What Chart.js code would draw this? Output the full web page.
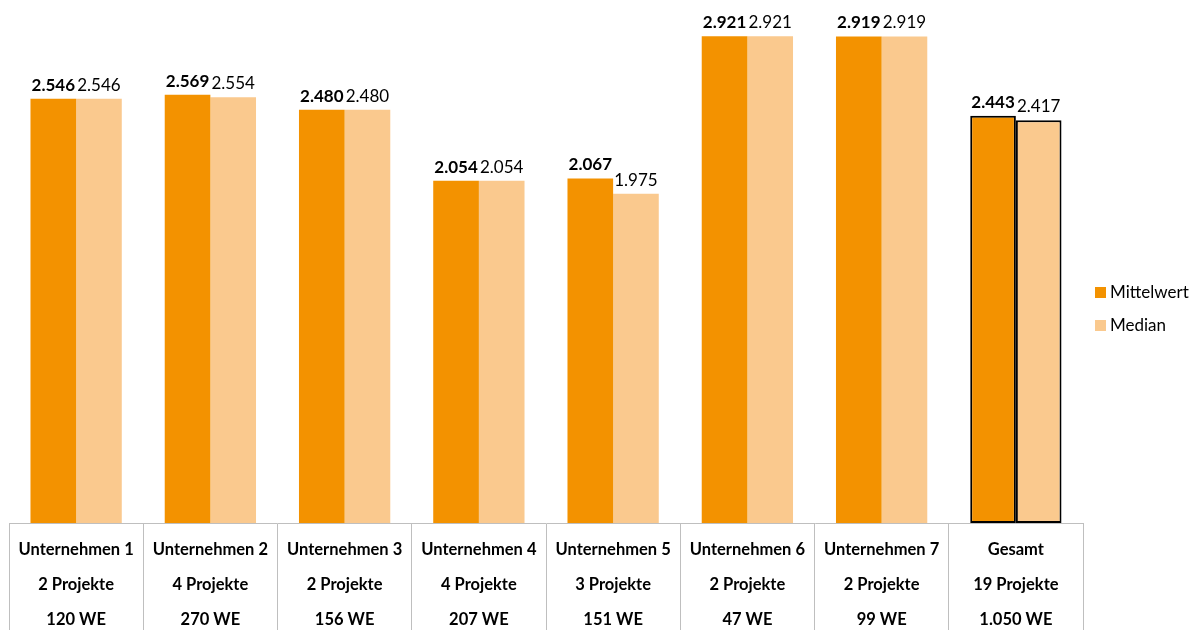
<!DOCTYPE html>
<html lang="de">
<head>
<meta charset="utf-8">
<title>Mittelwert und Median je Unternehmen</title>
<script src="https://cdn.jsdelivr.net/npm/chart.js@4.4.1/dist/chart.umd.min.js"></script>
<style>
  html, body { margin: 0; padding: 0; background: #ffffff; }
  #wrap { position: relative; width: 1197px; height: 630px; }
</style>
</head>
<body>
<div id="wrap"><canvas id="chart" width="1197" height="630"></canvas></div>
<script>
// Categories: company name, number of projects, number of housing units
const companies = ['Unternehmen 1', 'Unternehmen 2', 'Unternehmen 3', 'Unternehmen 4',
                   'Unternehmen 5', 'Unternehmen 6', 'Unternehmen 7', 'Gesamt'];
const projects  = ['2 Projekte', '4 Projekte', '2 Projekte', '4 Projekte',
                   '3 Projekte', '2 Projekte', '2 Projekte', '19 Projekte'];
const units     = ['120 WE', '270 WE', '156 WE', '207 WE', '151 WE', '47 WE', '99 WE', '1.050 WE'];

// Series values
const meanValues   = [2546, 2569, 2480, 2054, 2067, 2921, 2919, 2443];
const medianValues = [2546, 2554, 2480, 2054, 1975, 2921, 2919, 2417];

const ORANGE = '#F39200';
const LIGHT  = '#FAC98E';
const FONT   = 'Lato, "Open Sans", sans-serif';

// German number format with a dot as thousands separator
function fmt(v) {
  return String(Math.round(v)).replace(/\B(?=(\d{3})+(?!\d))/g, '.');
}

// Value labels above each bar: mean in bold, median in regular weight
const valueLabels = {
  id: 'valueLabels',
  afterDatasetsDraw(chart) {
    const ctx = chart.ctx;
    ctx.save();
    ctx.fillStyle = '#000';
    ctx.textAlign = 'center';
    ctx.textBaseline = 'bottom';
    chart.data.datasets.forEach((ds, di) => {
      const meta = chart.getDatasetMeta(di);
      ctx.font = (di === 0 ? 'bold ' : '') + '17px ' + FONT;
      meta.data.forEach((bar, i) => {
        ctx.fillText(fmt(ds.data[i]), bar.x, bar.y - 5);
      });
    });
    ctx.restore();
  }
};

// Legend on the right side
const sideLegend = {
  id: 'sideLegend',
  afterDraw(chart) {
    const ctx = chart.ctx;
    ctx.save();
    ctx.font = '17px ' + FONT;
    ctx.textBaseline = 'middle';
    ctx.textAlign = 'left';
    chart.data.datasets.forEach((ds, di) => {
      const y = 293 + di * 33;
      ctx.fillStyle = ds.backgroundColor;
      ctx.fillRect(1095, y - 6, 11, 11);
      ctx.fillStyle = '#000';
      ctx.fillText(ds.label, 1110, y);
    });
    ctx.restore();
  }
};

const borderWidths = companies.map((c, i) => i === companies.length - 1 ? 2 : 0);

new Chart(document.getElementById('chart'), {
  type: 'bar',
  data: {
    labels: companies.map((c, i) => [c, projects[i], units[i]]),
    datasets: [
      { label: 'Mittelwert', data: meanValues, backgroundColor: ORANGE,
        borderColor: '#000', borderWidth: borderWidths, borderSkipped: false },
      { label: 'Median', data: medianValues, backgroundColor: LIGHT,
        borderColor: '#000', borderWidth: borderWidths, borderSkipped: false }
    ]
  },
  options: {
    responsive: false,
    animation: false,
    layout: { padding: { left: 9, right: 114, top: 23, bottom: 0 } },
    datasets: { bar: { categoryPercentage: 0.68, barPercentage: 1.0 } },
    plugins: { legend: { display: false }, tooltip: { enabled: false } },
    scales: {
      x: {
        grid: { drawOnChartArea: false, color: '#bfbfbf', lineWidth: 1, tickLength: 110 },
        border: { display: true, color: '#bfbfbf', width: 1 },
        ticks: {
          color: '#000',
          font: { family: FONT, size: 16.5, weight: 'bold', lineHeight: 2.12 },
          padding: -101,
          maxRotation: 0,
          autoSkip: false
        },
        afterFit(scale) { scale.height = 107; }
      },
      y: {
        display: false,
        min: 0,
        max: 3000,
        afterFit(scale) { scale.width = 0; }
      }
    }
  },
  plugins: [valueLabels, sideLegend]
});
</script>
</body>
</html>
